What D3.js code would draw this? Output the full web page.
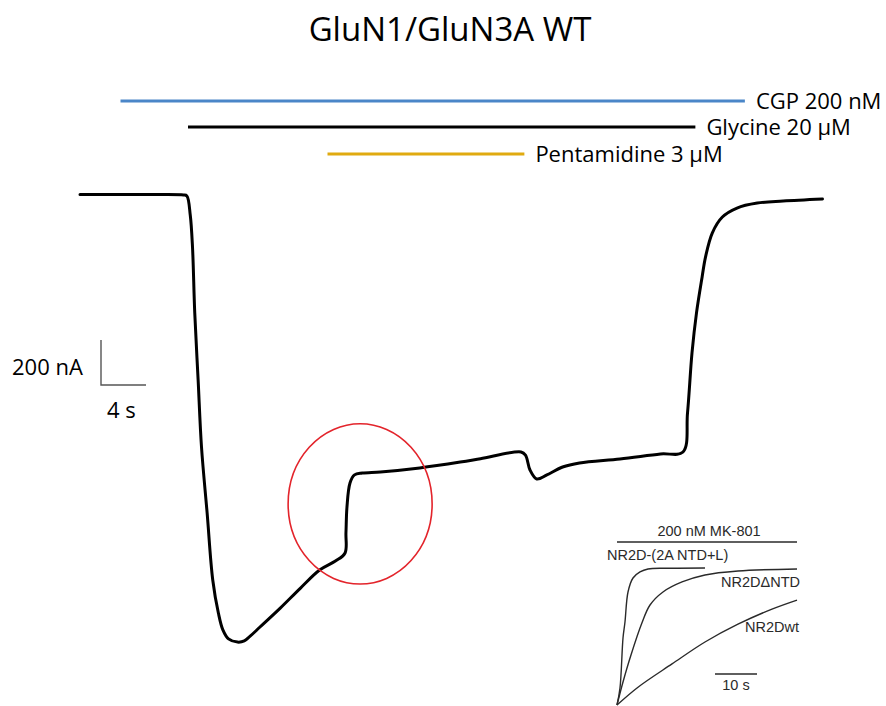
<!DOCTYPE html>
<html>
<head>
<meta charset="utf-8">
<script src="https://cdn.jsdelivr.net/npm/d3@7"></script>
<style>
  html, body { margin: 0; padding: 0; background: #fff; }
  svg { display: block; }
</style>
</head>
<body>
<svg id="chart" width="886" height="706"></svg>
<script>
// Two-electrode voltage-clamp trace, GluN1/GluN3A wild type
const traceTimeS = [0, 3.6, 7.1, 9.2, 9.5, 9.8, 10.0, 10.2, 10.5, 10.8, 11.3, 11.8, 12.3, 12.7, 13.2,
  14.0, 14.6, 15.1, 16.0, 17.8, 19.6, 21.3, 22.7, 23.56, 23.64, 23.73, 24.0, 24.4, 25.1, 26.7, 30.2,
  33.8, 35.6, 39.2, 39.6, 40.0, 40.6, 41.5, 42.9, 44.4, 48.0, 51.6, 53.6, 54.0, 54.4,
  54.8, 55.3, 55.6, 56.2, 57.1, 58.4, 60.2, 62.5, 66.0];
const traceCurrentNA = [2, 2, 2, 0, -4, -89, -231, -524, -822, -1120, -1413, -1711, -1858, -1933, -1973,
  -1987, -1982, -1962, -1920, -1836, -1747, -1667, -1627, -1591, -1502, -1387, -1280, -1244, -1236, -1231, -1213,
  -1187, -1172, -1142, -1156, -1222, -1262, -1244, -1209, -1191, -1173, -1151, -1142, -969, -702,
  -524, -364, -276, -169, -98, -58, -36, -27, -18];

// Drug application periods (s)
const drugLabels = ["CGP 200 nM", "Glycine 20 µM", "Pentamidine 3 µM"];
const drugStartS = [3.6, 9.6, 22.0];
const drugEndS = [59.1, 54.7, 39.5];
const drugColors = ["#4a86c8", "#000000", "#e0aa10"];

// Highlighted region around the pentamidine step (centre and radii in data units)
const highlightCenter = [24.9, -1373];
const highlightRadius = [6.4, 356];

// Scale bar sizes
const scaleCurrentNA = 200;
const scaleTimeS = 4;

// Inset: MK-801 block time course, fraction blocked vs time (s)
const insetNames = ["NR2D-(2A NTD+L)", "NR2DΔNTD", "NR2Dwt"];
const insetTimeFast = [0, 0.71, 1.43, 1.9, 2.62, 3.81, 5.48, 7.38, 12.0, 20.95];
const insetBlockFast = [0, 0.124, 0.489, 0.606, 0.825, 0.927, 0.971, 0.993, 0.998, 1.0];
const insetTimeDeltaNTD = [0, 1.43, 3.33, 5.95, 7.86, 10.95, 15.48, 20.95, 28.8, 42.86];
const insetBlockDeltaNTD = [0, 0.168, 0.365, 0.6, 0.73, 0.825, 0.898, 0.949, 0.978, 0.993];
const insetTimeWT = [0, 5.0, 13.1, 20.95, 28.8, 36.9, 42.86];
const insetBlockWT = [0, 0.13, 0.30, 0.46, 0.59, 0.70, 0.766];
const insetDrugLabel = "200 nM MK-801";
const insetDrugS = [0, 42.86];
const insetScaleS = 10;

const svg = d3.select("#chart");
svg.append("rect").attr("width", 886).attr("height", 706).attr("fill", "#fff");

const x = d3.scaleLinear().domain([0, 66]).range([80, 822.5]);
const y = d3.scaleLinear().domain([0, -2000]).range([195, 645]);

// Title
svg.append("text")
  .attr("x", 450).attr("y", 41)
  .attr("text-anchor", "middle")
  .attr("font-family", "'Open Sans', sans-serif")
  .attr("font-size", 33)
  .attr("fill", "#000")
  .text("GluN1/GluN3A WT");

// Drug application bars
const barY = [101, 127, 154];
const drugs = drugLabels.map((d, i) => ({ label: d, start: drugStartS[i], end: drugEndS[i], color: drugColors[i], y: barY[i] }));
const dg = svg.append("g");
dg.selectAll("line").data(drugs).join("line")
  .attr("x1", d => x(d.start)).attr("x2", d => x(d.end))
  .attr("y1", d => d.y).attr("y2", d => d.y)
  .attr("stroke", d => d.color).attr("stroke-width", 3);
dg.selectAll("text").data(drugs).join("text")
  .attr("x", d => x(d.end) + 11).attr("y", d => d.y + 8)
  .attr("font-family", "'Open Sans', sans-serif")
  .attr("font-size", 22)
  .attr("fill", "#000")
  .text(d => d.label);

// Current trace
const trace = traceTimeS.map((t, i) => [t, traceCurrentNA[i]]);
svg.append("path")
  .datum(trace)
  .attr("d", d3.line().x(d => x(d[0])).y(d => y(d[1])).curve(d3.curveCatmullRom.alpha(0.5)))
  .attr("fill", "none")
  .attr("stroke", "#000")
  .attr("stroke-width", 3)
  .attr("stroke-linejoin", "round")
  .attr("stroke-linecap", "round");

// Highlight ellipse
svg.append("ellipse")
  .attr("cx", x(highlightCenter[0])).attr("cy", y(highlightCenter[1]))
  .attr("rx", x(highlightRadius[0]) - x(0))
  .attr("ry", y(-highlightRadius[1]) - y(0))
  .attr("fill", "none").attr("stroke", "#e3242b").attr("stroke-width", 1.6);

// Scale bar
const sbX = 101, sbY = 385;
const sbW = x(scaleTimeS) - x(0);
const sbH = y(-scaleCurrentNA) - y(0);
svg.append("path")
  .attr("d", `M${sbX},${sbY - sbH}V${sbY}H${sbX + sbW}`)
  .attr("fill", "none").attr("stroke", "#555").attr("stroke-width", 1.4);
svg.append("text")
  .attr("x", 12).attr("y", 375)
  .attr("font-family", "'Open Sans', sans-serif").attr("font-size", 22).attr("fill", "#000")
  .text(scaleCurrentNA + " nA");
svg.append("text")
  .attr("x", 107).attr("y", 418)
  .attr("font-family", "'Open Sans', sans-serif").attr("font-size", 22).attr("fill", "#000")
  .text(scaleTimeS + " s");

// Inset panel
const ix = d3.scaleLinear().domain([0, 10]).range([617, 659]);
const iy = d3.scaleLinear().domain([0, 1]).range([705, 568]);
const inset = svg.append("g");
const insetFont = "'Liberation Sans', Arial, sans-serif";
const insetInk = "#2a2a2a";

inset.append("line")
  .attr("x1", ix(insetDrugS[0])).attr("x2", ix(insetDrugS[1]))
  .attr("y1", 542).attr("y2", 542)
  .attr("stroke", insetInk).attr("stroke-width", 1.3);
inset.append("text")
  .attr("x", 709).attr("y", 536).attr("text-anchor", "middle")
  .attr("font-family", insetFont).attr("font-size", 14.5).attr("fill", insetInk)
  .text(insetDrugLabel);

const insetCurves = [
  { name: insetNames[0], t: insetTimeFast, b: insetBlockFast, lx: 607, ly: 560 },
  { name: insetNames[1], t: insetTimeDeltaNTD, b: insetBlockDeltaNTD, lx: 721, ly: 587 },
  { name: insetNames[2], t: insetTimeWT, b: insetBlockWT, lx: 745, ly: 632 }
];
const iline = d3.line().x(d => ix(d[0])).y(d => iy(d[1])).curve(d3.curveCatmullRom.alpha(0.5));
inset.selectAll("path.block").data(insetCurves).join("path")
  .attr("class", "block")
  .attr("d", c => iline(c.t.map((t, i) => [t, c.b[i]])))
  .attr("fill", "none").attr("stroke", insetInk).attr("stroke-width", 1.4);
inset.selectAll("text.curve").data(insetCurves).join("text")
  .attr("class", "curve")
  .attr("x", c => c.lx).attr("y", c => c.ly)
  .attr("font-family", insetFont).attr("font-size", 14.5).attr("fill", insetInk)
  .text(c => c.name);

// Inset time scale bar
const isbX0 = 715;
inset.append("line")
  .attr("x1", isbX0).attr("x2", isbX0 + ix(insetScaleS) - ix(0))
  .attr("y1", 674).attr("y2", 674)
  .attr("stroke", insetInk).attr("stroke-width", 1.3);
inset.append("text")
  .attr("x", isbX0 + (ix(insetScaleS) - ix(0)) / 2).attr("y", 690).attr("text-anchor", "middle")
  .attr("font-family", insetFont).attr("font-size", 14.5).attr("fill", insetInk)
  .text(insetScaleS + " s");
</script>
</body>
</html>
